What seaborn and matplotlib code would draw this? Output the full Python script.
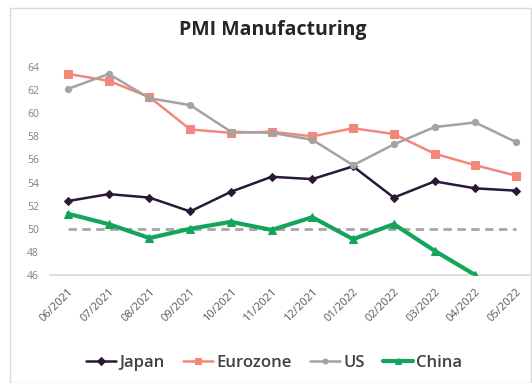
import matplotlib
matplotlib.use("Agg")
import matplotlib.pyplot as plt
import seaborn as sns
import pandas as pd
from matplotlib.patches import Rectangle

months = ["06/2021", "07/2021", "08/2021", "09/2021", "10/2021", "11/2021",
          "12/2021", "01/2022", "02/2022", "03/2022", "04/2022", "05/2022"]
japan = [52.4, 53.0, 52.7, 51.5, 53.2, 54.5, 54.3, 55.4, 52.7, 54.1, 53.5, 53.3]
eurozone = [63.4, 62.8, 61.4, 58.6, 58.3, 58.4, 58.0, 58.7, 58.2, 56.5, 55.5, 54.6]
us = [62.1, 63.4, 61.3, 60.7, 58.4, 58.3, 57.7, 55.5, 57.3, 58.8, 59.2, 57.5]
china = [51.3, 50.4, 49.2, 50.0, 50.6, 49.9, 51.0, 49.1, 50.4, 48.1, 46.0, None]
ref_level = 50

series = {"Japan": japan, "Eurozone": eurozone, "US": us, "China": china}
colors = {"Japan": "#2a1838", "Eurozone": "#f4877c", "US": "#a3a3a3", "China": "#13a55a"}
markers = {"Japan": "D", "Eurozone": "s", "US": "o", "China": "^"}
widths = {"Japan": 1.8, "Eurozone": 1.8, "US": 1.8, "China": 3.0}
msizes = {"Japan": 4.5, "Eurozone": 5.5, "US": 4.5, "China": 6}

rows = []
for name, vals in series.items():
    for i, v in enumerate(vals):
        if v is not None:
            rows.append({"idx": i, "value": v, "country": name})
df = pd.DataFrame(rows)

sns.set_theme(style="white")
plt.rcParams['font.family'] = ['Open Sans', 'DejaVu Sans']

fig = plt.figure(figsize=(5.32, 3.83), dpi=100)
fig.patch.set_facecolor("white")
fig.patches.append(Rectangle((10/532, 0.0), (532-11)/532, 1 - 8/383, transform=fig.transFigure,
                             fill=False, edgecolor="#d9d9d9", linewidth=1.0))

ax = fig.add_axes([50/532, 1 - 275/383, 480/532, (275-62)/383])

ax.plot([0, 11], [ref_level, ref_level], linestyle=(0, (3, 2)), color="#a6a6a6", linewidth=2.0, zorder=1)

for name in series:
    sub = df[df["country"] == name]
    sns.lineplot(data=sub, x="idx", y="value", ax=ax, color=colors[name], marker=markers[name],
                 markersize=msizes[name], markeredgecolor=colors[name], linewidth=widths[name],
                 label=name, zorder=3)

s = (516 - 68) / 11
ax.set_xlim(-(68 - 50) / s, 11 + (530 - 516) / s)
ax.set_ylim(46, 64 + 5 / ((275 - 67) / 18))
ax.set_yticks(range(46, 65, 2))
ax.set_xticks(range(len(months)))
ax.set_xticklabels(months, rotation=45, ha="right", rotation_mode="anchor")
ax.tick_params(axis="x", labelsize=8, colors="#595959", length=0, pad=8)
ax.tick_params(axis="y", labelsize=7.5, colors="#7f7f7f", length=0, pad=8)
ax.set_xlabel("")
ax.set_ylabel("")
for side in ["top", "right", "left"]:
    ax.spines[side].set_visible(False)
ax.spines["bottom"].set_color("#d9d9d9")
ax.grid(False)

ax.legend_.remove()
handles, labels = ax.get_legend_handles_labels()
fig.legend(handles, labels, loc="center", bbox_to_anchor=(0.515, 1 - 363/383), ncol=4, frameon=False,
           handlelength=1.8, handletextpad=0.2, columnspacing=1.1,
           labelcolor="#404040", markerscale=0.8, prop={"weight": "semibold", "size": 12})

fig.text(0.512, 1 - 30/383, "PMI Manufacturing", ha="center", va="center", fontsize=14,
         fontweight="bold", color="#262626")

fig.savefig("out.png", dpi=100)
